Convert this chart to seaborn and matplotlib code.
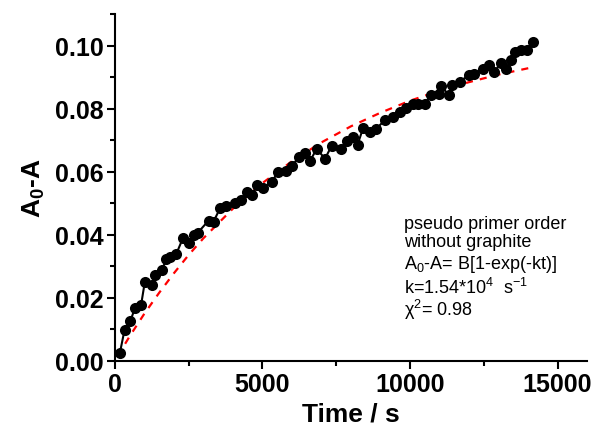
import numpy as np
import pandas as pd
import matplotlib
matplotlib.use("Agg")
import matplotlib.pyplot as plt
import seaborn as sns
from matplotlib.ticker import MultipleLocator

# ---- data ----
time_s = [170, 330, 530, 680, 890, 1015, 1260, 1375, 1600, 1745, 1880, 2085,
          2310, 2500, 2670, 2805, 3175, 3345, 3570, 3775, 4080, 4270, 4495,
          4640, 4830, 5035, 5315, 5540, 5800, 5990, 6250, 6440, 6610, 6840,
          7120, 7345, 7680, 7850, 8055, 8225, 8415, 8660, 8865, 9145, 9425,
          9650, 9880, 10100, 10270, 10500, 10720, 11000, 11060, 11320, 11430,
          11680, 11995, 12185, 12465, 12690, 12860, 13090, 13255, 13425,
          13570, 13765, 13950, 14155]
a0_minus_a = [0.0025, 0.0099, 0.0128, 0.0167, 0.0178, 0.0250, 0.0241, 0.0273,
              0.0290, 0.0322, 0.0329, 0.0340, 0.0390, 0.0375, 0.0400, 0.0406,
              0.0445, 0.0442, 0.0485, 0.0491, 0.0500, 0.0509, 0.0535, 0.0525,
              0.0559, 0.0548, 0.0569, 0.0599, 0.0601, 0.0618, 0.0647, 0.0660,
              0.0633, 0.0673, 0.0641, 0.0682, 0.0673, 0.0696, 0.0710, 0.0686,
              0.0739, 0.0726, 0.0737, 0.0763, 0.0774, 0.0789, 0.0802, 0.0816,
              0.0816, 0.0816, 0.0842, 0.0848, 0.0872, 0.0842, 0.0874, 0.0885,
              0.0906, 0.0911, 0.0925, 0.0937, 0.0917, 0.0946, 0.0925, 0.0953,
              0.0978, 0.0985, 0.0985, 0.1012]

# red dashed fit curve
fit_t = [100, 500, 1000, 1500, 2000, 2500, 3000, 4000, 5000, 6000, 7000,
         8000, 9000, 10000, 11000, 12000, 13000, 14200]
fit_y = [0.0016, 0.0078, 0.0150, 0.0216, 0.0278, 0.0336, 0.0389, 0.0483,
         0.0564, 0.0633, 0.0693, 0.0744, 0.0787, 0.0825, 0.0857, 0.0884,
         0.0908, 0.0932]

annot_lines = ["pseudo primer order", "without graphite",
               "A$_\\mathregular{0}$-A= B[1-exp(-kt)]",
               "k=1.54*10$^\\mathregular{4}$  s$^\\mathregular{-1}$",
               "\u03c7$^\\mathregular{2}$= 0.98"]

sns.set_theme(style="ticks")
plt.rcParams["font.family"] = ["Liberation Sans", "DejaVu Sans"]
plt.rcParams["mathtext.default"] = "regular"
plt.rcParams["text.color"] = "black"
plt.rcParams["axes.labelcolor"] = "black"

df = pd.DataFrame({"t": time_s, "y": a0_minus_a})
fit = pd.DataFrame({"t": fit_t, "y": fit_y})

fig = plt.figure(figsize=(5.95, 4.39), dpi=100)
ax = fig.add_axes([0.193, 0.1754, 0.7936, 0.7904])

sns.lineplot(data=fit, x="t", y="y", ax=ax, color="#ff0000", lw=1.6,
             zorder=3, sort=False)
ax.lines[-1].set_dashes((3.2, 3.2))
sns.lineplot(data=df, x="t", y="y", ax=ax, color="black", lw=1.5,
             marker="o", markersize=8, markeredgewidth=0, zorder=4,
             sort=False)

ax.set_xlim(0, 16000)
ax.set_ylim(0, 0.11)
ax.xaxis.set_major_locator(MultipleLocator(5000))
ax.xaxis.set_minor_locator(MultipleLocator(2500))
ax.yaxis.set_major_locator(MultipleLocator(0.02))
ax.yaxis.set_minor_locator(MultipleLocator(0.01))
ax.yaxis.set_major_formatter(matplotlib.ticker.FormatStrFormatter("%.2f"))

for s in ["top", "right"]:
    ax.spines[s].set_visible(False)
for s in ["left", "bottom"]:
    ax.spines[s].set_linewidth(1.5)
    ax.spines[s].set_color("black")

ax.tick_params(which="major", direction="out", length=6, width=1.5,
               labelsize=18, colors="black", pad=2)
ax.tick_params(which="minor", direction="out", length=3.5, width=1.5,
               colors="black")
for lab in ax.get_xticklabels() + ax.get_yticklabels():
    lab.set_fontweight("bold")

ax.set_xlabel("Time / s", fontsize=19, fontweight="bold", labelpad=4)
ax.set_ylabel("A$_\\mathregular{0}$-A", fontsize=19, fontweight="bold",
              labelpad=6)

ys = [0.0435, 0.0378, 0.0308, 0.0235, 0.0165]
for txt, yy in zip(annot_lines, ys):
    ax.text(9790, yy, txt, fontsize=13, ha="left", va="center", color="black")

fig.savefig("out.png", dpi=100)
